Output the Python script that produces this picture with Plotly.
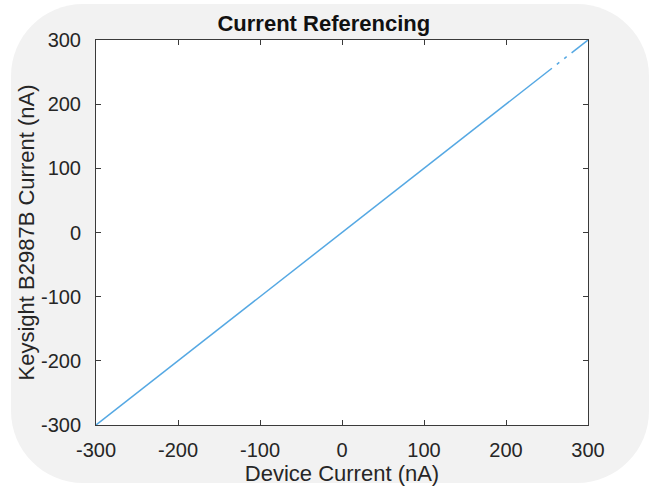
import plotly.graph_objects as go

# Data (nA)
device_current = [-300, -275, -250, -225, -200, -175, -150, -125, -100, -75, -50, -25, 0,
                  25, 50, 75, 100, 125, 150, 175, 200, 225, 250, 256, 258, 262, 265, 268,
                  271, 274, 277, 280, 290, 300]
keysight_current = [-300, -275, -250, -225, -200, -175, -150, -125, -100, -75, -50, -25, 0,
                    25, 50, 75, 100, 125, 150, 175, 200, 225, 250, 256, None, 262, 265, None,
                    271, 274, None, 280, 290, 300]

tick_vals = [-300, -200, -100, 0, 100, 200, 300]
tick_text = ["-300", "-200", "-100", "0", "100", "200", "300"]

W, H = 653, 486
L, R, T, B = 96, 65, 40, 61
pw, ph = W - L - R, H - T - B

def px(x):
    return (x - L) / pw

def py(y):
    return (H - B - y) / ph

# rounded background rectangle (pixel -> paper)
x0, x1, y0, y1, r = 11, 649, 4, 483, 72
k = 0.45 * r
path = (
    f"M {px(x0 + r)},{py(y0)} L {px(x1 - r)},{py(y0)} "
    f"C {px(x1 - r + (r - k))},{py(y0)} {px(x1)},{py(y0 + k)} {px(x1)},{py(y0 + r)} "
    f"L {px(x1)},{py(y1 - r)} "
    f"C {px(x1)},{py(y1 - k)} {px(x1 - k)},{py(y1)} {px(x1 - r)},{py(y1)} "
    f"L {px(x0 + r)},{py(y1)} "
    f"C {px(x0 + k)},{py(y1)} {px(x0)},{py(y1 - k)} {px(x0)},{py(y1 - r)} "
    f"L {px(x0)},{py(y0 + r)} "
    f"C {px(x0)},{py(y0 + k)} {px(x0 + k)},{py(y0)} {px(x0 + r)},{py(y0)} Z"
)

FONT = "Liberation Sans, Arial"

fig = go.Figure()
fig.add_trace(go.Scatter(
    x=device_current, y=keysight_current, mode="lines",
    line=dict(color="#55a8e3", width=1.5), connectgaps=False,
    showlegend=False, hoverinfo="skip"))

axis_common = dict(
    range=[-300, 300], tickvals=tick_vals, ticktext=tick_text,
    showgrid=False, zeroline=False, showline=True, mirror="ticks",
    linecolor="#3a3a3a", linewidth=1, ticks="inside", ticklen=5,
    tickcolor="#3a3a3a", tickfont=dict(family=FONT, size=20, color="#262626"),
    automargin=False,
)

fig.update_layout(
    width=W, height=H,
    margin=dict(l=L, r=R, t=T, b=B, pad=0, autoexpand=False),
    paper_bgcolor="white", plot_bgcolor="white",
    font=dict(family=FONT, color="#262626"),
    title=dict(text="<b>Current Referencing</b>", x=px(340), xanchor="center",
               y=1 - 23 / H, yanchor="middle",
               font=dict(family=FONT, size=22, color="#111111")),
    xaxis=dict(**axis_common, ticklabelstandoff=7,
               title=dict(text="Device Current (nA)", standoff=0,
                          font=dict(family=FONT, size=22, color="#262626"))),
    yaxis=dict(**axis_common, ticklabelstandoff=10,
               title=dict(text="Keysight B2987B Current (nA)", standoff=0,
                          font=dict(family=FONT, size=22, color="#262626"))),
    shapes=[
        dict(type="path", xref="paper", yref="paper", path=path,
             fillcolor="#f2f2f2", line=dict(width=0), layer="below"),
        dict(type="rect", xref="paper", yref="paper", x0=0, x1=1, y0=0, y1=1,
             fillcolor="white", line=dict(width=0), layer="below"),
    ],
)

fig.write_html("out.html")
